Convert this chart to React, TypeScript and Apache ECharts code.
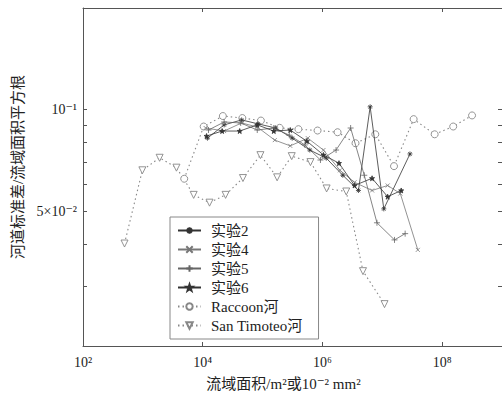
import React, { useEffect, useRef } from "react";
import * as echarts from "echarts";

// ---- data (x: 流域面积, y: 河道标准差/流域面积平方根) ----
const exp2X = [12000, 22800, 44700, 84500, 166000, 313000, 615000, 1160000, 2190000, 4000000, 6270000, 10600000, 29000000];
const exp2Y = [0.0824, 0.0902, 0.0933, 0.0908, 0.0883, 0.0824, 0.076, 0.0719, 0.064, 0.0577, 0.102, 0.0509, 0.074];

const exp4X = [11200, 22800, 44700, 81500, 160000, 290000, 570000, 1040000, 1960000, 3440000, 6750000, 12300000, 20000000, 39200000];
const exp4Y = [0.0883, 0.0865, 0.0914, 0.0889, 0.0813, 0.0782, 0.0824, 0.076, 0.0662, 0.061, 0.0577, 0.0597, 0.0565, 0.0385];

const exp5X = [12500, 22800, 43100, 81500, 154000, 280000, 509000, 927000, 1690000, 2960000, 5000000, 8150000, 16000000, 24100000];
const exp5Y = [0.0871, 0.092, 0.0914, 0.0871, 0.0883, 0.0841, 0.0787, 0.071, 0.076, 0.0883, 0.064, 0.0463, 0.0412, 0.043];

const exp6X = [11600, 21100, 41500, 81500, 154000, 290000, 550000, 1040000, 1890000, 3440000, 6750000, 12300000, 20700000];
const exp6Y = [0.0836, 0.0865, 0.0865, 0.0902, 0.0865, 0.0871, 0.0807, 0.0735, 0.0695, 0.0597, 0.0627, 0.0553, 0.0577];

const raccoonX = [4910, 10380, 21700, 45900, 93800, 193000, 397000, 829000, 1790000, 3570000, 7640000, 15700000, 33400000, 75000000, 153000000, 316000000];
const raccoonY = [0.0625, 0.0892, 0.0958, 0.0945, 0.0929, 0.0884, 0.0876, 0.0868, 0.0858, 0.0796, 0.0846, 0.0681, 0.0938, 0.0846, 0.0892, 0.0962];

const sanTimoteoX = [494, 982, 1905, 3640, 7060, 13000, 24100, 47000, 92100, 175000, 307000, 631000, 1175000, 2500000, 4760000, 10900000];
const sanTimoteoY = [0.0402, 0.0662, 0.0721, 0.0674, 0.056, 0.0531, 0.056, 0.0628, 0.0734, 0.0631, 0.0729, 0.07, 0.0585, 0.0573, 0.0333, 0.0266];

const seriesNames = ["实验2", "实验4", "实验5", "实验6", "Raccoon河", "San Timoteo河"];

const xTickValues = [1e2, 1e4, 1e6, 1e8];
const xTickLabels = ["10²", "10⁴", "10⁶", "10⁸"];
const yTickValues = [0.02, 0.03, 0.04, 0.05, 0.06, 0.07, 0.08, 0.09, 0.1, 0.2];
const yLabelValues = [0.05, 0.1];
const yLabelTexts = ["5×10⁻²", "10⁻¹"];

const SERIF = "'Liberation Serif', 'DejaVu Serif', 'Noto Sans CJK SC', serif";

const pts = (xs: number[], ys: number[]) => xs.map((x, i) => [x, ys[i]]);
const labelFor = (vals: number[], texts: string[]) => (v: number) => {
  const i = vals.findIndex((t) => Math.abs(t - v) / t < 1e-6);
  return i >= 0 ? texts[i] : "";
};

const ASTER = "path://M0,-5L0,5M-5,0L5,0M-3.5,-3.5L3.5,3.5M-3.5,3.5L3.5,-3.5";
const CROSS = "path://M-4,-4L4,4M-4,4L4,-4";
const PLUS = "path://M0,-5L0,5M-5,0L5,0";
const STAR = "path://M0,-5L1.18,-1.62L4.76,-1.55L1.9,0.62L2.94,4.05L0,2L-2.94,4.05L-1.9,0.62L-4.76,-1.55L-1.18,-1.62Z";

export default function App() {
  const ref = useRef<HTMLDivElement>(null);
  useEffect(() => {
    document.body.style.margin = "0";
    const chart = echarts.init(ref.current!, undefined, { renderer: "svg" });
    const axisLine = { show: true, lineStyle: { color: "#555", width: 1 } };
    const xBase = {
      type: "log" as const,
      logBase: 10,
      min: 100,
      max: 1e9,
      axisLine,
      splitLine: { show: false },
      axisTick: { show: true, inside: true, length: 4, customValues: xTickValues, lineStyle: { color: "#555" } },
    };
    const yBase = {
      type: "log" as const,
      logBase: 10,
      min: 0.02,
      max: 0.2,
      axisLine,
      splitLine: { show: false },
      axisTick: { show: true, inside: true, length: 4, customValues: yTickValues, lineStyle: { color: "#555" } },
    };
    const lineSeries = (name: string, data: number[][], symbol: string, color: string, dotted: boolean, size: number, rotate = 0, fill?: string) => ({
      type: "line",
      name,
      data,
      symbol,
      symbolSize: size,
      symbolRotate: rotate,
      showSymbol: true,
      xAxisIndex: 0,
      yAxisIndex: 0,
      lineStyle: { color, width: dotted ? 1.1 : 0.8, type: dotted ? [1.5, 3] : "solid" },
      itemStyle: { color: fill ?? color, borderColor: color, borderWidth: dotted ? 0.9 : 0.8 },
      z: dotted ? 2 : 3,
    });
    chart.setOption({
      animation: false,
      backgroundColor: "#fff",
      grid: { left: 83, top: 8, right: -10.5, bottom: 51, containLabel: false },
      xAxis: [
        {
          ...xBase,
          position: "bottom",
          axisLabel: {
            customValues: xTickValues,
            formatter: labelFor(xTickValues, xTickLabels),
            margin: 9,
            fontSize: 14,
            color: "#222",
            fontFamily: SERIF,
          },
          name: "流域面积/m²或10⁻² mm²",
          nameLocation: "middle",
          nameGap: 30,
          nameTextStyle: { fontSize: 15, color: "#222", fontFamily: SERIF, padding: [0, 18, 0, 0] },
        },
        { ...xBase, position: "top", axisLabel: { show: false } },
      ],
      yAxis: [
        {
          ...yBase,
          position: "left",
          axisLabel: {
            customValues: yLabelValues,
            formatter: labelFor(yLabelValues, yLabelTexts),
            margin: 6,
            fontSize: 14,
            color: "#222",
            fontFamily: SERIF,
          },
          name: "河道标准差/流域面积平方根",
          nameLocation: "middle",
          nameGap: 56,
          nameTextStyle: { fontSize: 15, color: "#222", fontFamily: SERIF, padding: [0, 0, 0, 20] },
        },
        { ...yBase, position: "right", axisLabel: { show: false } },
      ],
      legend: {
        left: 170,
        top: 217,
        orient: "vertical",
        data: seriesNames,
        backgroundColor: "#fff",
        borderColor: "#888",
        borderWidth: 1,
        padding: [6, 16, 6, 7],
        itemWidth: 23,
        itemHeight: 8,
        itemGap: 4,
        textStyle: { fontSize: 15, color: "#222", fontFamily: SERIF, padding: [0, 0, 0, 5] },
      },
      series: [
        lineSeries(seriesNames[0], pts(exp2X, exp2Y), ASTER, "#333", false, 5),
        lineSeries(seriesNames[1], pts(exp4X, exp4Y), CROSS, "#777", false, 4),
        lineSeries(seriesNames[2], pts(exp5X, exp5Y), PLUS, "#666", false, 6),
        lineSeries(seriesNames[3], pts(exp6X, exp6Y), STAR, "#333", false, 5),
        lineSeries(seriesNames[4], pts(raccoonX, raccoonY), "circle", "#888", true, 7, 0, "#fff"),
        lineSeries(seriesNames[5], pts(sanTimoteoX, sanTimoteoY), "triangle", "#888", true, 7, 180, "#fff"),
      ],
    });
    return () => chart.dispose();
  }, []);
  return <div ref={ref} style={{ width: 502, height: 397 }} />;
}
